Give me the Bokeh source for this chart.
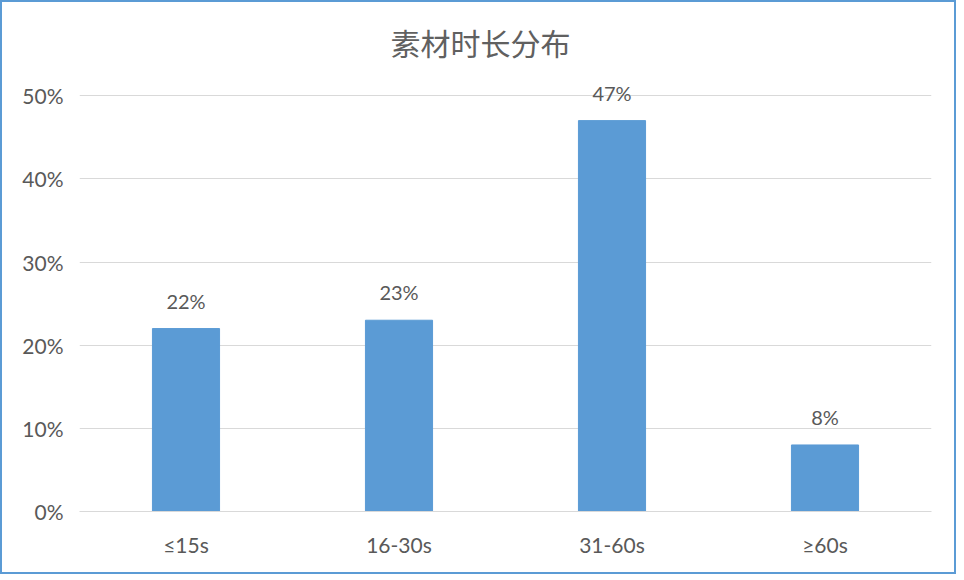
from bokeh.plotting import figure
from bokeh.models import ColumnDataSource, Range1d, FactorRange, NumeralTickFormatter, FixedTicker, LabelSet, Label
from bokeh.core.properties import value
from bokeh.embed import file_html
from bokeh.resources import INLINE

categories = ["≤15s", "16-30s", "31-60s", "≥60s"]
values = [0.22, 0.23, 0.47, 0.08]
labels = ["22%", "23%", "47%", "8%"]
title_text = "素材时长分布"
y_ticks = [0, 0.1, 0.2, 0.3, 0.4, 0.5]

GRAY = "#595959"
BAR = "#5B9BD5"
NUMFONT = "Lato"

src = ColumnDataSource(dict(cat=categories, val=values, lab=labels))

p = figure(width=956, height=574, x_range=FactorRange(*categories), y_range=Range1d(0, 0.594),
           output_backend="svg", toolbar_location=None,
           min_border_left=77, min_border_right=27, min_border_top=15, min_border_bottom=65)
p.styles = {"border": "2px solid #5B9BD5"}
p.outline_line_color = None
p.background_fill_color = "white"
p.border_fill_color = "white"

p.vbar(x="cat", top="val", width=0.315, source=src, color=BAR)

p.add_layout(LabelSet(x="cat", y="val", text="lab", source=src, y_offset=28,
                      text_align="center", text_baseline="middle",
                      text_font=value(NUMFONT), text_font_size=value("20px"), text_color=value(GRAY)))

p.add_layout(Label(x=1.883, y=0.565, text=title_text, text_align="center", text_baseline="middle",
                   text_font="Noto Sans CJK SC", text_font_size="30px", text_color="#606060",
                   text_font_style="normal"))

p.yaxis.ticker = FixedTicker(ticks=y_ticks)
p.yaxis.formatter = NumeralTickFormatter(format="0%")
p.yaxis.axis_line_color = None
p.yaxis.major_tick_line_color = None
p.yaxis.minor_tick_line_color = None
p.yaxis.major_tick_out = 0
p.yaxis.major_label_standoff = 16
p.yaxis.major_label_text_font = NUMFONT
p.yaxis.major_label_text_font_size = "21px"
p.yaxis.major_label_text_color = GRAY

p.xaxis.axis_line_color = "#d9d9d9"
p.xaxis.major_tick_line_color = None
p.xaxis.minor_tick_line_color = None
p.xaxis.major_tick_out = 0
p.xaxis.major_label_standoff = 20
p.xaxis.major_label_text_font = NUMFONT
p.xaxis.major_label_text_font_size = "21px"
p.xaxis.major_label_text_color = GRAY

p.xgrid.grid_line_color = None
p.ygrid.grid_line_color = "#d9d9d9"
p.ygrid.grid_line_width = 1

open("out.html", "w").write(file_html(p, INLINE))
